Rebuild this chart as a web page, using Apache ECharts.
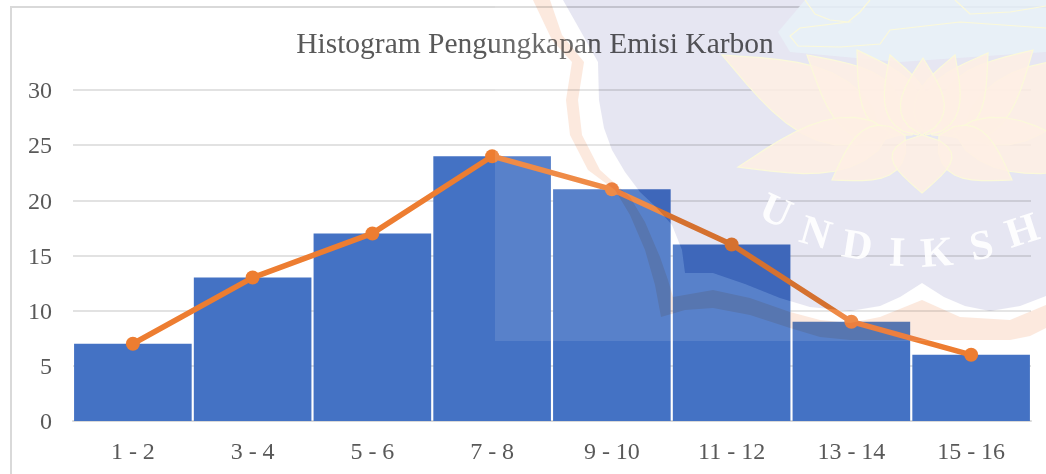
<!DOCTYPE html>
<html>
<head>
<meta charset="utf-8">
<title>Histogram Pengungkapan Emisi Karbon</title>
<script src="https://cdn.jsdelivr.net/npm/echarts@6/dist/echarts.min.js"></script>
<style>
  html, body { margin: 0; padding: 0; background: #fff; }
  #chart { width: 1046px; height: 474px; }
</style>
</head>
<body>
<div id="chart"></div>
<script>
const titleText = 'Histogram Pengungkapan Emisi Karbon'
const categories = ['1 - 2', '3 - 4', '5 - 6', '7 - 8', '9 - 10', '11 - 12', '13 - 14', '15 - 16']
const frequency = [7, 13, 17, 24, 21, 16, 9, 6]
const watermarkLetters = ['U', 'N', 'D', 'I', 'K', 'S', 'H']

const serif = '"Liberation Serif", serif'

// watermark outlines, page pixels
const shieldEdge = [[563, 0], [580, 30], [598, 62], [599, 100], [604, 128], [612, 150], [625, 172], [640, 192], [657, 208], [672, 225], [682, 250], [685, 273], [713, 273], [745, 284], [780, 298], [810, 307], [850, 311], [880, 306], [900, 297], [922, 283], [944, 297], [965, 306], [990, 311], [1020, 306], [1046, 296]]
const bandOuter = [[533, 0], [552, 40], [572, 62], [566, 100], [570, 135], [588, 170], [615, 190], [630, 215], [645, 250], [655, 285], [661, 317], [685, 310], [713, 308], [750, 315], [790, 328], [820, 337], [850, 340], [922, 340], [1010, 340], [1030, 336], [1046, 328]]
const bandInner = [[550, 0], [562, 35], [584, 62], [578, 100], [582, 135], [600, 170], [630, 197], [645, 222], [660, 257], [668, 280], [673, 297], [713, 290], [750, 298], [790, 312], [820, 320], [850, 323], [880, 317], [922, 300], [960, 317], [1010, 320], [1046, 305]]
const lotusCrown = [[805, 0], [778, 32], [790, 52], [900, 62], [1046, 52], [1046, 0]]
const crownLines = [
  [[805, 0], [815, 14], [830, 20], [848, 22], [800, 28], [790, 36], [798, 46], [840, 47], [880, 44], [890, 30], [960, 22], [1046, 28]],
  [[870, 0], [860, 12], [848, 22]],
  [[955, 0], [970, 14], [1010, 12], [1046, 6]]
]

function petal(tx, ty, bx, by, w) {
  const len = Math.hypot(tx - bx, ty - by)
  const nx = (by - ty) / len
  const ny = (tx - bx) / len
  const pts = []
  const side = (sign, reverse) => {
    for (let k = 0; k <= 10; k++) {
      const t = reverse ? 1 - k / 10 : k / 10
      const bulge = Math.sin(Math.PI * Math.pow(t, 0.7)) * w * sign
      pts.push([bx + (tx - bx) * t + nx * bulge, by + (ty - by) * t + ny * bulge])
    }
  }
  side(1, false)
  side(-1, true)
  return pts
}

const petals = [
  petal(722, 55, 880, 135, 34), petal(1122, 55, 964, 135, 34),
  petal(807, 55, 900, 135, 32), petal(1033, 50, 944, 135, 32),
  petal(857, 50, 912, 135, 28), petal(988, 53, 932, 135, 28),
  petal(890, 55, 918, 135, 22), petal(955, 55, 926, 135, 22),
  petal(923, 58, 922, 135, 22),
  petal(738, 167, 890, 132, 26), petal(1106, 167, 954, 132, 26),
  petal(832, 180, 905, 135, 26), petal(1012, 180, 939, 135, 26),
  petal(922, 193, 922, 135, 30)
]

const letterSpots = [
  [775, 213, 24], [815, 235, 16], [857, 248, 9], [897, 255, 2],
  [937, 255, -4], [982, 248, -11], [1023, 233, -18]
]

const watermark = [
  // washed out picture area, the shield is left out of it
  { type: 'polygon', shape: { points: [[495, 0], [495, 341], [1046, 341], ...shieldEdge.slice().reverse()] }, style: { fill: 'rgba(255,255,255,0.11)' }, z: 100, silent: true },
  { type: 'polygon', shape: { points: [...shieldEdge, [1046, 0]] }, style: { fill: '#e6e6f2', blend: 'multiply' }, z: 101, silent: true },
  { type: 'polygon', shape: { points: [...bandOuter, ...bandInner.slice().reverse()] }, style: { fill: '#fce9de', blend: 'multiply' }, z: 101, silent: true },
  { type: 'polygon', shape: { points: lotusCrown }, style: { fill: 'rgba(231,241,248,0.85)' }, z: 102, silent: true }
]
petals.forEach((pts) => {
  watermark.push({ type: 'polygon', shape: { points: pts }, style: { fill: 'rgba(254,238,228,0.85)', stroke: '#fbf9da', lineWidth: 1.2 }, z: 102, silent: true })
})
crownLines.forEach((pts) => {
  watermark.push({ type: 'polyline', shape: { points: pts }, style: { fill: 'none', stroke: '#fbf9da', lineWidth: 1.2 }, z: 103, silent: true })
})
watermarkLetters.forEach((ch, i) => {
  const spot = letterSpots[i]
  watermark.push({
    type: 'text',
    x: spot[0],
    y: spot[1],
    rotation: (spot[2] * Math.PI) / 180 * -1,
    style: { text: ch, fill: 'rgba(255,255,255,0.92)', font: `bold 42px ${serif}`, align: 'center', verticalAlign: 'middle' },
    z: 104,
    silent: true
  })
})

const chart = echarts.init(document.getElementById('chart'))
chart.setOption({
  backgroundColor: '#fff',
  animation: false,
  title: {
    text: titleText,
    left: 530,
    top: 25,
    textAlign: 'center',
    textStyle: { fontFamily: serif, fontSize: 29.5, fontWeight: 'normal', color: '#595959' }
  },
  grid: { left: 73, right: 15, top: 90, bottom: 53 },
  xAxis: {
    type: 'category',
    data: categories,
    axisTick: { show: false },
    axisLine: { lineStyle: { color: '#d9d9d9', width: 2 } },
    axisLabel: { fontFamily: serif, fontSize: 24, color: '#595959', margin: 20 }
  },
  yAxis: {
    type: 'value',
    min: 0,
    max: 30,
    interval: 5,
    axisLine: { show: false },
    axisTick: { show: false },
    // nudged down a little so the digits sit on the gridlines
    axisLabel: { fontFamily: serif, fontSize: 24, color: '#595959', margin: 21, verticalAlign: 'top', lineHeight: 4 },
    splitLine: { lineStyle: { color: '#d9d9d9', width: 1.5 } }
  },
  series: [
    {
      type: 'bar',
      data: frequency,
      barWidth: '98.2%',
      itemStyle: { color: '#4472c4' }
    },
    {
      type: 'line',
      data: frequency,
      symbol: 'circle',
      symbolSize: 14,
      lineStyle: { color: '#ed7d31', width: 5.5 },
      itemStyle: { color: '#ed7d31' }
    }
  ],
  graphic: [
    { type: 'rect', shape: { x: 11, y: 7, width: 1100, height: 600 }, style: { fill: 'none', stroke: '#d9d9d9', lineWidth: 2 }, silent: true },
    ...watermark
  ]
})
</script>
</body>
</html>
